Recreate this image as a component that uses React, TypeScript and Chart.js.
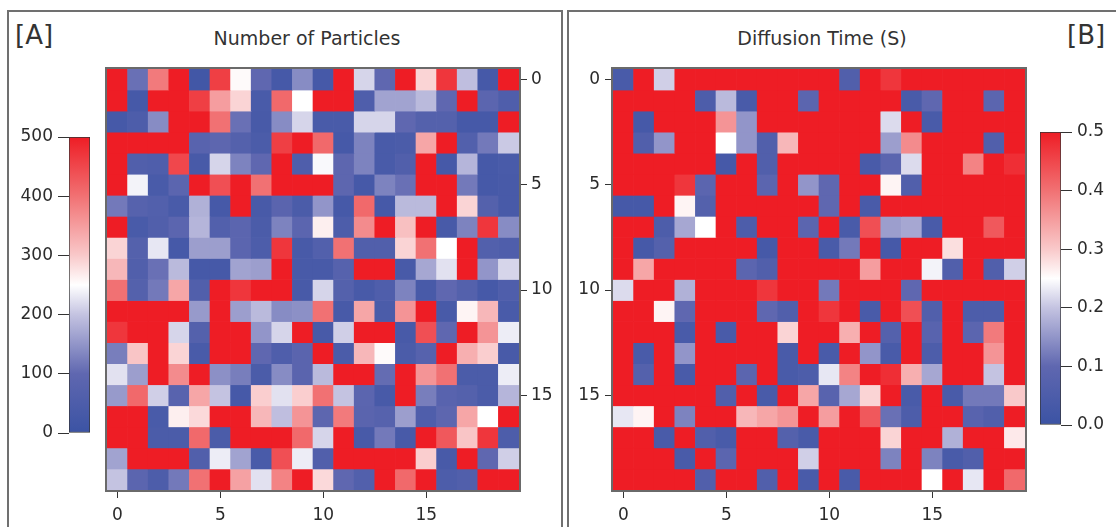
import React, { useEffect, useRef } from 'react';
import { Chart, registerables } from 'chart.js';

Chart.register(...registerables);

const FONT = "'DejaVu Sans', Verdana, sans-serif";
const TEXT = '#2b2b2b';

// ---------- data ----------
const columnLabels = ['0', '1', '2', '3', '4', '5', '6', '7', '8', '9', '10', '11', '12', '13', '14', '15', '16', '17', '18', '19'];
const columnTickIndices = [0, 5, 10, 15];
const rowTickIndices = [0, 5, 10, 15];

// Number of particles (rows top -> bottom, columns left -> right)
const particleRows: number[][] = [
  [500, 110, 390, 500, 20, 460, 255, 100, 30, 140, 30, 500, 215, 100, 500, 290, 470, 195, 30, 500],
  [500, 30, 500, 500, 460, 350, 290, 40, 410, 250, 500, 500, 55, 165, 165, 190, 100, 500, 90, 55],
  [30, 50, 140, 500, 500, 400, 110, 35, 140, 215, 40, 40, 215, 215, 100, 70, 70, 30, 30, 500],
  [500, 500, 500, 500, 80, 95, 70, 45, 460, 500, 410, 30, 130, 40, 45, 340, 500, 65, 120, 205],
  [500, 60, 55, 450, 35, 215, 130, 100, 500, 55, 245, 95, 130, 40, 60, 500, 30, 185, 30, 40],
  [500, 240, 40, 90, 500, 440, 500, 400, 500, 500, 500, 95, 30, 130, 110, 500, 500, 120, 30, 35],
  [120, 75, 65, 40, 180, 30, 500, 35, 85, 45, 150, 30, 410, 30, 190, 190, 500, 290, 70, 35],
  [500, 40, 60, 90, 185, 65, 90, 45, 130, 90, 265, 50, 370, 500, 310, 500, 35, 130, 470, 140],
  [290, 70, 230, 30, 160, 160, 90, 50, 470, 35, 65, 400, 60, 60, 290, 400, 250, 500, 65, 55],
  [320, 60, 110, 190, 30, 30, 165, 160, 500, 35, 35, 75, 500, 500, 35, 170, 225, 500, 150, 215],
  [400, 70, 120, 340, 60, 500, 470, 500, 500, 35, 215, 70, 35, 55, 130, 35, 100, 70, 30, 55],
  [500, 500, 500, 500, 155, 500, 160, 190, 140, 145, 400, 35, 340, 45, 360, 500, 35, 260, 320, 40],
  [470, 500, 500, 215, 70, 500, 500, 150, 215, 500, 35, 210, 500, 500, 35, 440, 100, 500, 360, 235],
  [125, 305, 500, 290, 40, 500, 500, 100, 55, 85, 500, 45, 320, 255, 45, 75, 500, 330, 295, 35],
  [225, 160, 500, 370, 500, 145, 125, 45, 140, 85, 190, 500, 500, 105, 500, 360, 400, 45, 45, 235],
  [155, 410, 210, 80, 340, 200, 30, 295, 225, 295, 400, 200, 90, 35, 500, 125, 80, 70, 45, 185],
  [500, 500, 40, 265, 285, 500, 500, 320, 195, 360, 95, 390, 85, 75, 160, 55, 95, 340, 250, 500],
  [500, 500, 45, 45, 410, 45, 500, 500, 500, 410, 215, 500, 35, 120, 35, 500, 430, 305, 470, 50],
  [165, 500, 500, 500, 60, 235, 165, 40, 440, 235, 60, 500, 500, 500, 500, 295, 35, 500, 100, 210],
  [200, 90, 50, 120, 400, 500, 345, 225, 380, 500, 285, 100, 65, 500, 410, 500, 50, 60, 500, 500],
];

// Diffusion time (S)
const diffusionRows: number[][] = [
  [0.04, 0.5, 0.21, 0.5, 0.5, 0.5, 0.5, 0.5, 0.5, 0.5, 0.5, 0.06, 0.5, 0.47, 0.5, 0.5, 0.5, 0.5, 0.5, 0.5],
  [0.5, 0.5, 0.5, 0.5, 0.05, 0.19, 0.04, 0.5, 0.5, 0.09, 0.5, 0.5, 0.5, 0.5, 0.04, 0.1, 0.5, 0.5, 0.09, 0.5],
  [0.5, 0.03, 0.5, 0.5, 0.5, 0.36, 0.15, 0.5, 0.5, 0.5, 0.5, 0.5, 0.5, 0.22, 0.5, 0.04, 0.5, 0.5, 0.5, 0.5],
  [0.5, 0.06, 0.15, 0.5, 0.5, 0.25, 0.15, 0.06, 0.32, 0.5, 0.5, 0.5, 0.5, 0.16, 0.37, 0.5, 0.5, 0.5, 0.06, 0.5],
  [0.5, 0.5, 0.5, 0.5, 0.5, 0.03, 0.5, 0.06, 0.5, 0.5, 0.5, 0.5, 0.04, 0.09, 0.22, 0.5, 0.5, 0.38, 0.5, 0.48],
  [0.5, 0.5, 0.5, 0.47, 0.09, 0.5, 0.5, 0.09, 0.5, 0.15, 0.1, 0.5, 0.5, 0.26, 0.06, 0.5, 0.5, 0.5, 0.5, 0.5],
  [0.03, 0.03, 0.5, 0.26, 0.07, 0.5, 0.5, 0.5, 0.5, 0.5, 0.1, 0.5, 0.04, 0.5, 0.5, 0.5, 0.5, 0.5, 0.5, 0.5],
  [0.5, 0.5, 0.05, 0.17, 0.25, 0.5, 0.05, 0.5, 0.5, 0.09, 0.5, 0.04, 0.44, 0.16, 0.17, 0.04, 0.5, 0.5, 0.43, 0.5],
  [0.5, 0.03, 0.07, 0.5, 0.5, 0.5, 0.5, 0.03, 0.5, 0.5, 0.04, 0.12, 0.5, 0.03, 0.5, 0.5, 0.28, 0.5, 0.5, 0.5],
  [0.5, 0.34, 0.5, 0.5, 0.5, 0.5, 0.09, 0.06, 0.5, 0.5, 0.5, 0.5, 0.35, 0.5, 0.5, 0.24, 0.06, 0.5, 0.06, 0.21],
  [0.22, 0.5, 0.5, 0.18, 0.5, 0.5, 0.5, 0.47, 0.5, 0.5, 0.12, 0.5, 0.5, 0.5, 0.1, 0.5, 0.5, 0.5, 0.5, 0.5],
  [0.5, 0.5, 0.26, 0.1, 0.5, 0.5, 0.5, 0.1, 0.06, 0.5, 0.47, 0.5, 0.04, 0.5, 0.44, 0.06, 0.5, 0.05, 0.05, 0.5],
  [0.5, 0.5, 0.5, 0.04, 0.5, 0.04, 0.5, 0.5, 0.29, 0.5, 0.5, 0.33, 0.5, 0.07, 0.5, 0.08, 0.5, 0.09, 0.39, 0.5],
  [0.5, 0.04, 0.5, 0.15, 0.5, 0.5, 0.5, 0.5, 0.04, 0.5, 0.04, 0.5, 0.15, 0.04, 0.5, 0.05, 0.5, 0.5, 0.36, 0.5],
  [0.5, 0.07, 0.5, 0.04, 0.5, 0.5, 0.09, 0.5, 0.04, 0.05, 0.23, 0.38, 0.5, 0.48, 0.33, 0.17, 0.5, 0.5, 0.2, 0.5],
  [0.5, 0.5, 0.5, 0.5, 0.5, 0.06, 0.5, 0.04, 0.5, 0.34, 0.08, 0.17, 0.29, 0.5, 0.04, 0.5, 0.04, 0.12, 0.12, 0.3],
  [0.23, 0.26, 0.5, 0.13, 0.5, 0.5, 0.32, 0.34, 0.36, 0.5, 0.35, 0.5, 0.43, 0.11, 0.05, 0.5, 0.5, 0.08, 0.06, 0.5],
  [0.5, 0.5, 0.04, 0.5, 0.06, 0.04, 0.5, 0.5, 0.07, 0.04, 0.5, 0.5, 0.5, 0.29, 0.5, 0.5, 0.18, 0.5, 0.5, 0.27],
  [0.5, 0.5, 0.5, 0.04, 0.5, 0.09, 0.5, 0.5, 0.5, 0.21, 0.5, 0.5, 0.5, 0.13, 0.5, 0.13, 0.04, 0.06, 0.5, 0.5],
  [0.5, 0.5, 0.5, 0.5, 0.06, 0.5, 0.5, 0.06, 0.5, 0.04, 0.5, 0.04, 0.5, 0.5, 0.5, 0.25, 0.5, 0.23, 0.5, 0.41],
];

const particleMin = 0;
const particleMax = 500;
const particleStep = 100;
const diffusionMin = 0;
const diffusionMax = 0.5;
const diffusionStep = 0.1;

// ---------- colour scale ----------
const colorStops: [number, string][] = [
  [0, '#3b53a4'],
  [0.2, '#5f67b0'],
  [0.4, '#c4c3e1'],
  [0.5, '#ffffff'],
  [0.6, '#f9c9ca'],
  [0.8, '#f17173'],
  [1, '#ee1d25'],
];

function hexToRgb(h: string): number[] {
  const n = parseInt(h.slice(1), 16);
  return [(n >> 16) & 255, (n >> 8) & 255, n & 255];
}

function colorFor(v: number, min: number, max: number): string {
  const t = Math.max(0, Math.min(1, (v - min) / (max - min)));
  for (let i = 1; i < colorStops.length; i++) {
    const [t1, c1] = colorStops[i];
    const [t0, c0] = colorStops[i - 1];
    if (t <= t1) {
      const f = (t - t0) / (t1 - t0);
      const a = hexToRgb(c0);
      const b = hexToRgb(c1);
      const rgb = a.map((x, k) => Math.round(x + (b[k] - x) * f));
      return `rgb(${rgb[0]},${rgb[1]},${rgb[2]})`;
    }
  }
  return colorStops[colorStops.length - 1][1];
}

const framePlugin = {
  id: 'frame',
  afterDraw(chart: any) {
    const { ctx, chartArea } = chart;
    ctx.save();
    ctx.strokeStyle = '#6a6a6a';
    ctx.lineWidth = 2;
    ctx.strokeRect(chartArea.left - 1, chartArea.top - 1, chartArea.right - chartArea.left + 2, chartArea.bottom - chartArea.top + 2);
    ctx.restore();
  },
};

type Pad = { left: number; right: number; top: number; bottom: number };

type HeatProps = {
  rows: number[][];
  min: number;
  max: number;
  left: number;
  top: number;
  width: number;
  height: number;
  yPos: 'left' | 'right';
  padding: Pad;
  yAxisWidth: number;
  xAxisHeight: number;
};

const TICK_FONT = { family: FONT, size: 17 };

function Heatmap(p: HeatProps) {
  const ref = useRef<HTMLCanvasElement>(null);
  useEffect(() => {
    const chart = new Chart(ref.current as HTMLCanvasElement, {
      type: 'bar',
      data: {
        labels: columnLabels,
        datasets: p.rows.map((row, r) => ({
          label: 'row ' + r,
          data: row.map(() => 1),
          backgroundColor: row.map((v) => colorFor(v, p.min, p.max)),
          borderWidth: 0,
          barPercentage: 1,
          categoryPercentage: 1,
        })),
      },
      options: {
        responsive: false,
        animation: false,
        devicePixelRatio: 1,
        events: [],
        layout: { padding: p.padding },
        plugins: { legend: { display: false }, tooltip: { enabled: false }, title: { display: false } },
        scales: {
          x: {
            type: 'category',
            stacked: true,
            position: 'bottom',
            grid: {
              display: true,
              drawOnChartArea: false,
              drawTicks: true,
              tickLength: 8,
              offset: false,
              tickColor: (c: any) => (columnTickIndices.includes(c.index) ? '#333' : 'rgba(0,0,0,0)'),
            },
            border: { display: false },
            ticks: {
              autoSkip: false,
              maxRotation: 0,
              padding: 7,
              color: TEXT,
              font: TICK_FONT,
              callback: (_v: any, i: number) => (columnTickIndices.includes(i) ? columnLabels[i] : ''),
            },
            afterFit: (s: any) => {
              s.height = p.xAxisHeight;
              s.paddingLeft = 0;
              s.paddingRight = 0;
            },
          },
          y: {
            type: 'linear',
            stacked: true,
            reverse: true,
            min: 0,
            max: p.rows.length,
            position: p.yPos,
            afterBuildTicks: (s: any) => {
              s.ticks = rowTickIndices.map((i) => ({ value: i + 0.5 }));
            },
            grid: { drawOnChartArea: false, drawTicks: true, tickLength: 8, tickColor: '#333' },
            border: { display: false },
            ticks: {
              padding: p.yPos === 'left' ? 5 : 4,
              color: TEXT,
              font: TICK_FONT,
              callback: (v: any) => String(Math.round(Number(v) - 0.5)),
            },
            afterFit: (s: any) => {
              s.width = p.yAxisWidth;
              s.paddingTop = 0;
              s.paddingBottom = 0;
            },
          },
        },
      } as any,
      plugins: [framePlugin],
    });
    return () => chart.destroy();
  }, []);
  return (
    <canvas
      ref={ref}
      width={p.width}
      height={p.height}
      style={{ position: 'absolute', left: p.left, top: p.top, width: p.width, height: p.height, display: 'block' }}
    />
  );
}

type BarProps = {
  min: number;
  max: number;
  step: number;
  decimals: number;
  left: number;
  top: number;
  width: number;
  height: number;
  yPos: 'left' | 'right';
  padding: Pad;
  axisWidth: number;
};

function ColorBar(p: BarProps) {
  const ref = useRef<HTMLCanvasElement>(null);
  useEffect(() => {
    const chart = new Chart(ref.current as HTMLCanvasElement, {
      type: 'bar',
      data: {
        labels: [''],
        datasets: [
          {
            data: [[p.min, p.max]],
            backgroundColor: (ctx: any) => {
              const area = ctx.chart.chartArea;
              if (!area) return '#ffffff';
              const g = ctx.chart.ctx.createLinearGradient(0, area.bottom, 0, area.top);
              colorStops.forEach(([t, c]) => g.addColorStop(t, c));
              return g;
            },
            borderColor: '#333',
            borderWidth: 1,
            borderSkipped: false,
            barPercentage: 1,
            categoryPercentage: 1,
          },
        ],
      },
      options: {
        responsive: false,
        animation: false,
        devicePixelRatio: 1,
        events: [],
        layout: { padding: p.padding },
        plugins: { legend: { display: false }, tooltip: { enabled: false } },
        scales: {
          x: { display: false },
          y: {
            min: p.min,
            max: p.max,
            position: p.yPos,
            grid: { drawOnChartArea: false, drawTicks: true, tickLength: 11, tickColor: '#333' },
            border: { display: false },
            ticks: {
              stepSize: p.step,
              padding: 5,
              color: TEXT,
              font: TICK_FONT,
              callback: (v: any) => Number(v).toFixed(p.decimals),
            },
            afterFit: (s: any) => {
              s.width = p.axisWidth;
              s.paddingTop = 0;
              s.paddingBottom = 0;
            },
          },
        },
      } as any,
    });
    return () => chart.destroy();
  }, []);
  return (
    <canvas
      ref={ref}
      width={p.width}
      height={p.height}
      style={{ position: 'absolute', left: p.left, top: p.top, width: p.width, height: p.height, display: 'block' }}
    />
  );
}

const textBase: React.CSSProperties = {
  position: 'absolute',
  fontFamily: FONT,
  color: '#333',
  lineHeight: 1,
  whiteSpace: 'nowrap',
};

export default function App() {
  return (
    <div
      style={{
        position: 'absolute',
        left: 0,
        top: 0,
        width: 1116,
        height: 527,
        overflow: 'hidden',
        background: '#ffffff',
      }}
    >
      <div style={{ position: 'absolute', left: 7, top: 10, width: 556, height: 600, border: '2px solid #707070', boxSizing: 'border-box' }} />
      <div style={{ position: 'absolute', left: 567, top: 10, width: 600, height: 600, border: '2px solid #707070', boxSizing: 'border-box' }} />

      <div style={{ ...textBase, left: 15, top: 22, fontSize: 26 }}>[A]</div>
      <div style={{ ...textBase, left: 1067, top: 22, fontSize: 26 }}>[B]</div>
      <div style={{ ...textBase, left: 157, width: 300, top: 29, fontSize: 19, textAlign: 'center' }}>Number of Particles</div>
      <div style={{ ...textBase, left: 672, width: 300, top: 29, fontSize: 19, textAlign: 'center' }}>Diffusion Time (S)</div>

      <ColorBar
        min={particleMin}
        max={particleMax}
        step={particleStep}
        decimals={0}
        left={9}
        top={120}
        width={90}
        height={330}
        yPos="left"
        padding={{ left: 0, right: 9, top: 17, bottom: 17 }}
        axisWidth={60}
      />
      <Heatmap
        rows={particleRows}
        min={particleMin}
        max={particleMax}
        left={90}
        top={60}
        width={470}
        height={465}
        yPos="right"
        padding={{ left: 17, right: 0, top: 9, bottom: 0 }}
        yAxisWidth={41}
        xAxisHeight={35}
      />
      <Heatmap
        rows={diffusionRows}
        min={diffusionMin}
        max={diffusionMax}
        left={560}
        top={60}
        width={480}
        height={465}
        yPos="left"
        padding={{ left: 0, right: 15, top: 9, bottom: 0 }}
        yAxisWidth={53}
        xAxisHeight={35}
      />
      <ColorBar
        min={diffusionMin}
        max={diffusionMax}
        step={diffusionStep}
        decimals={1}
        left={1020}
        top={115}
        width={96}
        height={330}
        yPos="right"
        padding={{ left: 20, right: 0, top: 17, bottom: 20 }}
        axisWidth={55}
      />
    </div>
  );
}
